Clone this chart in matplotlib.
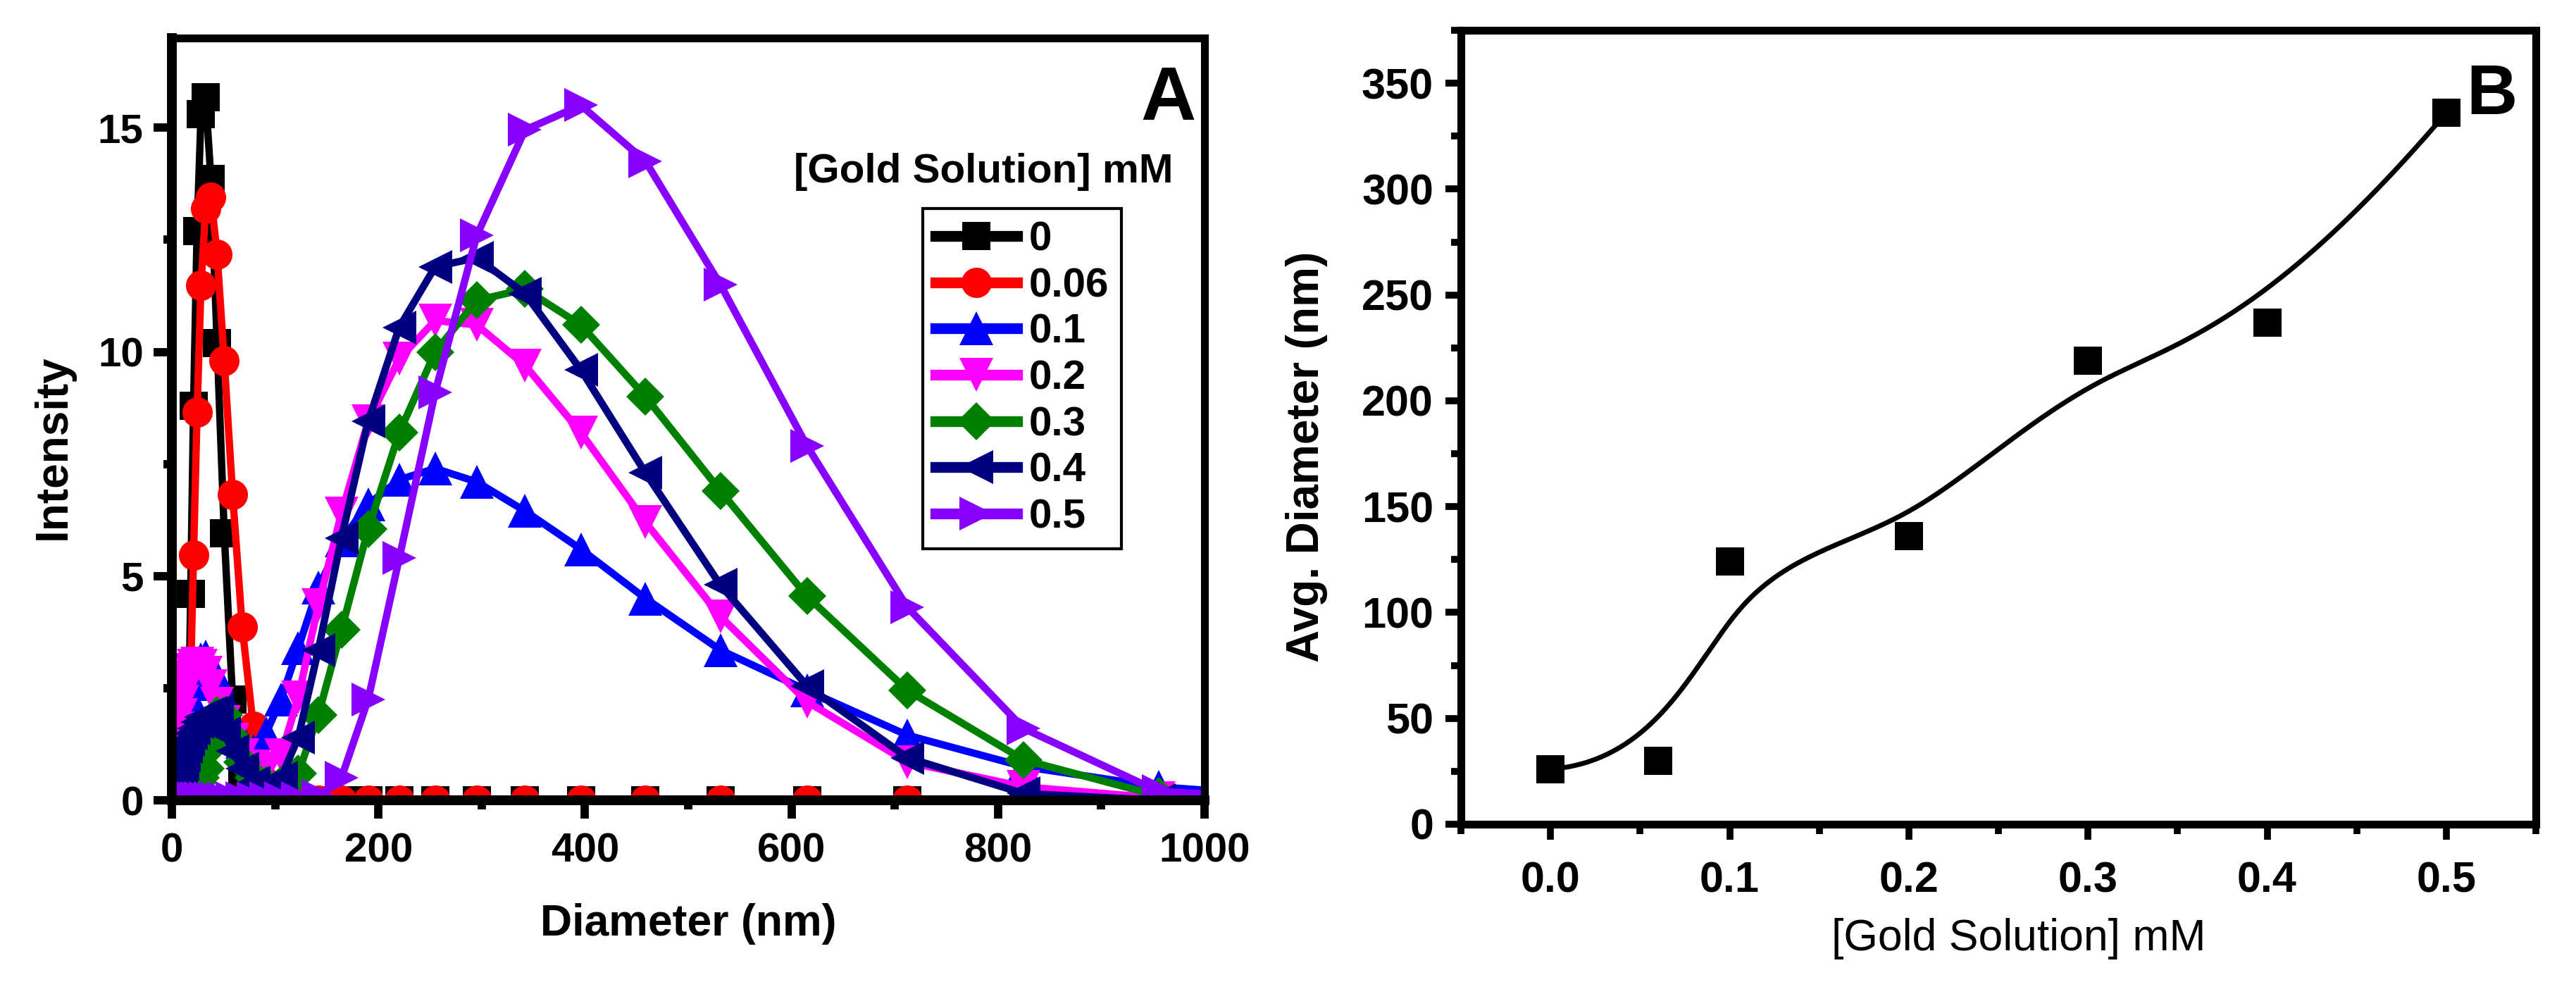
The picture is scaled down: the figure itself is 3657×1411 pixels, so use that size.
import numpy as np
import matplotlib
matplotlib.use("Agg")
import matplotlib.pyplot as plt
from matplotlib.ticker import MultipleLocator, FormatStrFormatter

plt.rcParams['font.family'] = ['Liberation Sans', 'DejaVu Sans']
plt.rcParams['font.weight'] = 'bold'

# --- panel A: DLS size distributions (intensity vs diameter) ---
diam_bins = [5.6, 6.5, 7.5, 8.7, 10.1, 11.7, 13.5, 15.7, 18.2, 21.0, 24.4, 28.2,
             32.7, 37.8, 43.8, 50.7, 58.8, 68.1, 78.8, 91.3, 105.7, 122.4, 141.8,
             164.2, 190.1, 220.2, 255.0, 295.3, 342.0, 396.1, 458.7, 531.2, 615.1,
             712.4, 825.0, 955.4, 1106.0]

int_0 = [0, 0, 0, 0, 0, 0, 0.2, 1.0, 4.6, 8.8, 12.7, 15.3, 15.68, 13.85, 10.2, 5.96,
         2.25, 0.4, 0, 0, 0, 0, 0, 0, 0, 0, 0, 0, 0, 0, 0, 0, 0, 0, 0, 0, 0]
int_006 = [1.0, 1.8, 2.4, 2.6, 2.6, 2.4, 2.4, 2.5, 2.8, 5.46, 8.65, 11.48, 13.2, 13.45,
           12.18, 9.8, 6.82, 3.87, 1.65, 0.4, 0, 0, 0, 0, 0, 0, 0, 0, 0, 0, 0, 0, 0,
           0, 0, 0, 0]
int_01 = [0.6, 0.9, 1.2, 1.5, 1.8, 2.0, 2.2, 2.4, 2.6, 2.85, 3.05, 3.15, 3.2, 3.0, 2.75,
          2.3, 1.8, 1.3, 1.1, 1.5, 2.25, 3.4, 4.75, 5.8, 6.6, 7.15, 7.4, 7.1, 6.45, 5.6,
          4.5, 3.35, 2.45, 1.45, 0.75, 0.3, 0.05]
int_02 = [0.8, 1.2, 1.6, 1.9, 2.2, 2.4, 2.6, 2.75, 2.9, 3.0, 3.05, 3.0, 2.85, 2.55, 2.15,
          1.75, 1.35, 1.0, 0.75, 0.7, 1.0, 2.3, 4.35, 6.4, 8.45, 9.85, 10.7, 10.6, 9.7,
          8.2, 6.2, 4.1, 2.2, 0.85, 0.3, 0.05, 0]
int_03 = [0.3, 0.5, 0.6, 0.6, 0.5, 0.4, 0.4, 0.35, 0.35, 0.4, 0.4, 0.5, 0.7, 1.2, 1.9,
          1.9, 1.4, 0.85, 0.5, 0.35, 0.35, 0.6, 1.9, 3.8, 6.05, 8.2, 10.0, 11.15, 11.4,
          10.6, 9.0, 6.9, 4.55, 2.45, 0.9, 0.1, 0]
int_04 = [0.3, 0.4, 0.5, 0.7, 0.8, 1.0, 1.2, 1.35, 1.5, 1.6, 1.75, 1.85, 1.9, 1.95, 2.0,
          1.5, 1.1, 0.7, 0.4, 0.3, 0.5, 1.4, 3.35, 5.85, 8.45, 10.55, 11.9, 12.1, 11.3,
          9.6, 7.3, 4.8, 2.55, 0.95, 0.15, 0, 0]
int_05 = [0.05, 0.05, 0.05, 0.05, 0.05, 0.05, 0.05, 0.05, 0.05, 0.05, 0.05, 0.05, 0.05,
          0.05, 0.05, 0.05, 0.05, 0.05, 0.05, 0.05, 0.05, 0.05, 0.1, 0.5, 2.25, 5.4, 9.1,
          12.6, 14.95, 15.5, 14.25, 11.5, 7.9, 4.3, 1.6, 0.2, 0]

series_labels = ["0", "0.06", "0.1", "0.2", "0.3", "0.4", "0.5"]
series_data = [int_0, int_006, int_01, int_02, int_03, int_04, int_05]
series_colors = ["#000000", "#FF0000", "#0000FF", "#FF00FF", "#008000", "#000080", "#8800FF"]
series_markers = ["s", "o", "^", "v", "D", "<", ">"]

# --- panel B: average diameter vs gold concentration ---
conc = [0.0, 0.06, 0.1, 0.2, 0.3, 0.4, 0.5]
avg_diam = [26, 30, 124, 136, 219, 237, 336]


def bspline(xs, ys, k=3, n=400):
    # clamped B-spline using the points as control points (Origin "B-Spline" connector)
    xs = np.asarray(xs, float)
    ys = np.asarray(ys, float)
    m = len(xs)
    knots = np.concatenate([np.zeros(k), np.arange(m - k + 1), np.full(k, m - k)]).astype(float)
    t = np.linspace(0, m - k, n)
    t[-1] -= 1e-9
    B = np.zeros((n, len(knots) - 1))
    for i in range(len(knots) - 1):
        B[:, i] = (knots[i] <= t) & (t < knots[i + 1])
    for d in range(1, k + 1):
        Bn = np.zeros((n, len(knots) - 1 - d))
        for i in range(len(knots) - 1 - d):
            term = np.zeros(n)
            den1 = knots[i + d] - knots[i]
            if den1 > 0:
                term += (t - knots[i]) / den1 * B[:, i]
            den2 = knots[i + d + 1] - knots[i + 1]
            if den2 > 0:
                term += (knots[i + d + 1] - t) / den2 * B[:, i + 1]
            Bn[:, i] = term
        B = Bn
    return B @ xs, B @ ys


W, H = 3657, 1411
fig = plt.figure(figsize=(W / 100, H / 100), dpi=100)

marker_size = {"s": 29, "o": 31, "^": 34, "v": 34, "<": 34, ">": 34, "D": 28}

axA = fig.add_axes([244 / W, 1 - 1136 / H, (1710 - 244) / W, (1136 - 54) / H])
for lab, vals, col, mk in zip(series_labels, series_data, series_colors, series_markers):
    axA.plot(diam_bins, vals, color=col, marker=mk, markersize=marker_size[mk],
             markeredgewidth=0, linewidth=7.5, label=lab)

axA.set_xlim(0, 1000)
axA.set_ylim(0, 17)
axA.xaxis.set_major_locator(MultipleLocator(200))
axA.xaxis.set_minor_locator(MultipleLocator(100))
axA.yaxis.set_major_locator(MultipleLocator(5))
axA.yaxis.set_minor_locator(MultipleLocator(2.5))
axA.tick_params(which='major', direction='out', length=19, width=8.5, labelsize=42)
axA.tick_params(which='minor', direction='out', length=9, width=8.5)
axA.tick_params(axis='x', which='major', pad=14)
axA.tick_params(axis='y', which='major', pad=10)
for s in axA.spines.values():
    s.set_linewidth(8)
axA.spines['left'].set_linewidth(10)
axA.spines['bottom'].set_linewidth(10)

axA.set_xlabel("Diameter (nm)", fontsize=45, fontweight='bold')
axA.set_ylabel("Intensity", fontsize=46, fontweight='bold')
axA.xaxis.set_label_coords(0.5, -0.135)
axA.yaxis.set_label_coords(-0.094, 0.463)

leg = axA.legend(loc='upper left', bbox_to_anchor=((1310 - 244) / 1466, (1136 - 296) / 1082),
                 borderaxespad=0, fontsize=42, handlelength=2.0, handletextpad=0.28,
                 labelspacing=0.2, borderpad=0.3, fancybox=False, framealpha=1,
                 edgecolor='black', numpoints=1)
leg.get_frame().set_linewidth(3)
for ln in leg.get_lines():
    ln.set_linewidth(11)

fig.text(1396 / W, 1 - 259 / H, "[Gold Solution] mM", fontsize=42, fontweight='bold',
         ha='center', va='baseline')
fig.text(1658 / W, 1 - 170 / H, "A", fontsize=78, fontweight='bold', ha='center', va='baseline')

# --- panel B ---
axB = fig.add_axes([2074 / W, 1 - 1170 / H, (3600 - 2074) / W, (1170 - 43) / H])
cx, cy = bspline(conc, avg_diam)
axB.plot(cx, cy, color='black', linewidth=5)
axB.plot(conc, avg_diam, linestyle='none', marker='s', markersize=29, color='black',
         markeredgewidth=0)

axB.set_xlim(-0.05, 0.55)
axB.set_ylim(0, 375)
axB.xaxis.set_major_locator(MultipleLocator(0.1))
axB.xaxis.set_minor_locator(MultipleLocator(0.05))
axB.xaxis.set_major_formatter(FormatStrFormatter('%.1f'))
axB.yaxis.set_major_locator(MultipleLocator(50))
axB.yaxis.set_minor_locator(MultipleLocator(25))
axB.tick_params(which='major', direction='out', length=16, width=7, labelsize=44)
axB.tick_params(which='minor', direction='out', length=10, width=7)
axB.tick_params(axis='x', which='major', pad=22)
axB.tick_params(axis='y', which='major', pad=12)
for s in axB.spines.values():
    s.set_linewidth(8)

axB.set_xlabel("[Gold Solution] mM", fontsize=45, fontweight='normal')
axB.set_ylabel("Avg. Diameter (nm)", fontsize=46, fontweight='bold')
axB.xaxis.set_label_coords(0.519, -0.118)
axB.yaxis.set_label_coords(-0.124, 0.463)

fig.text(3537 / W, 1 - 162 / H, "B", fontsize=72, fontweight='bold', ha='center', va='baseline')

fig.savefig("out.png", dpi=100)
